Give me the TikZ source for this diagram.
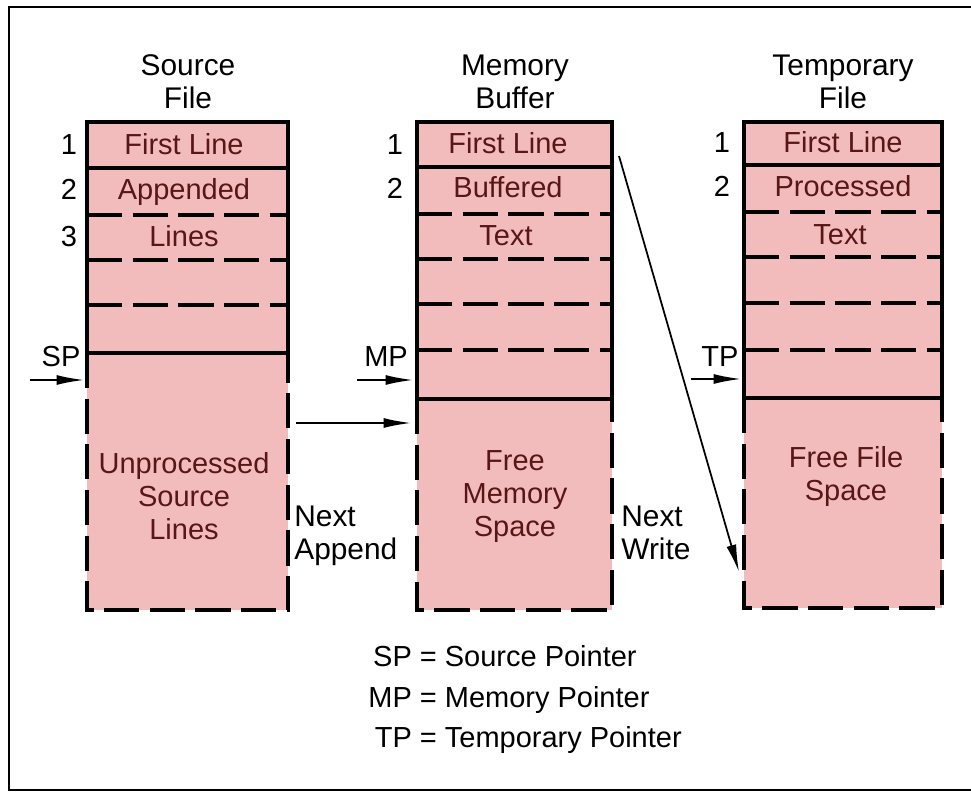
\documentclass[tikz,border=0pt]{standalone}
\usepackage{fontspec}
\setmainfont{Liberation Sans}
\usetikzlibrary{arrows.meta,positioning}

\definecolor{cellfill}{RGB}{243,188,188}
\definecolor{celltext}{RGB}{88,22,22}

\begin{document}
\begin{tikzpicture}[x=0.02cm, y=-0.02cm,
    every node/.style={font=\fontsize{17}{19}\selectfont, inner sep=0pt, anchor=base},
    cell/.style={text=celltext, align=center, font=\fontsize{16.5}{19}\selectfont},
    num/.style={font=\fontsize{16.5}{19}\selectfont},
    title/.style={align=center},
    wall/.style={line width=1.8pt},
    seam/.style={line width=1.8pt, dash pattern=on 20pt off 6pt},
    ptr/.style={line width=1pt, -{Latex[length=5.5mm,width=2mm]}}]
    \useasboundingbox (0,0) rectangle (971,793);
    \draw[line width=1.6pt] (971,7) -- (9,7) -- (9,790) -- (971,790);

    % source file
    \fill[cellfill] (87,122) rectangle (288,610);
    \draw[wall] (87,353) -- (87,122) -- (288,122) -- (288,353);
    \draw[wall] (87,168) -- (288,168);
    \draw[wall] (87,353) -- (288,353);
    \foreach \y in {215,260,305} \draw[seam] (87,\y) -- (288,\y);
    \draw[seam] (87,353) -- (87,610) -- (288,610) -- (288,353);

    % memory buffer
    \fill[cellfill] (417,122) rectangle (612,610);
    \draw[wall] (417,399) -- (417,122) -- (612,122) -- (612,399);
    \draw[wall] (417,167) -- (612,167);
    \draw[wall] (417,399) -- (612,399);
    \foreach \y in {214,259,304,350} \draw[seam] (417,\y) -- (612,\y);
    \draw[seam] (417,399) -- (417,610) -- (612,610) -- (612,399);

    % temporary file
    \fill[cellfill] (744,122) rectangle (942,608);
    \draw[wall] (744,398) -- (744,122) -- (942,122) -- (942,398);
    \draw[wall] (744,165) -- (942,165);
    \draw[wall] (744,398) -- (942,398);
    \foreach \y in {212,257,303,350} \draw[seam] (744,\y) -- (942,\y);
    \draw[seam] (744,398) -- (744,608) -- (942,608) -- (942,398);

    % titles (base = last line)
    \node[title] (srcttl) at (188,109) {Source\\File};
    \node[title] (memttl) at (515,109) {Memory\\Buffer};
    \node[title] (tmpttl) at (843,109) {Temporary\\File};

    % line numbers
    \node[num] (srcone) at (69,155) {1};
    \node[num] (srctwo) at (69,200) {2};
    \node[num] (srcthree) at (69,247) {3};
    \node[num] (memone) at (395,155) {1};
    \node[num] (memtwo) at (395,199) {2};
    \node[num] (tmpone) at (722,153) {1};
    \node[num] (tmptwo) at (722,197) {2};

    % cell texts
    \node[cell] (srcfirst) at (184,155) {First Line};
    \node[cell] (srcapp) at (184,200) {Appended};
    \node[cell] (srclines) at (184,247) {Lines};
    \node[cell] (srcrest) at (184,540) {Unprocessed\\Source\\Lines};
    \node[cell] (memfirst) at (508,154) {First Line};
    \node[cell] (membuf) at (508,198) {Buffered};
    \node[cell] (memtext) at (506,246) {Text};
    \node[cell] (memfree) at (515,537) {Free\\Memory\\Space};
    \node[cell] (tmpfirst) at (843,153) {First Line};
    \node[cell] (tmpproc) at (843,197) {Processed};
    \node[cell] (tmptext) at (840,245) {Text};
    \node[cell] (tmpfree) at (846,501) {Free File\\Space};

    % pointers
    \node[num] (splbl) at (61,367) {SP};
    \node[num] (mplbl) at (386,367) {MP};
    \node[num] (tplbl) at (720,367) {TP};
    \coordinate (sptail) at (30,380);
    \coordinate (sphead) at (84,380);
    \coordinate (mptail) at (357,380);
    \coordinate (mphead) at (413,380);
    \coordinate (tptail) at (691,379);
    \coordinate (tphead) at (741,379);
    \draw[ptr] (sptail) -- (sphead);
    \draw[ptr] (mptail) -- (mphead);
    \draw[ptr] (tptail) -- (tphead);

    % transfers
    \coordinate (appfrom) at (296,423);
    \coordinate (appto) at (411,423);
    \draw[ptr] (appfrom) -- (appto);
    \node[align=left, anchor=base west] (nextapp) at (294,560) {Next\\Append};
    \coordinate (wrfrom) at (619,156);
    \coordinate (wrto) at (739,572);
    \draw[ptr] (wrfrom) -- (wrto);
    \node[align=left, anchor=base west] (nextwr) at (621,560) {Next\\Write};

    % legend
    \node[anchor=base west, font=\fontsize{16.5}{23}\selectfont] (legend) at (368,667)
        {\begin{tabular}[t]{@{}r@{ = }l@{}}
         SP & Source Pointer\\
         MP & Memory Pointer\\
         TP & Temporary Pointer
         \end{tabular}};
\end{tikzpicture}
\end{document}
